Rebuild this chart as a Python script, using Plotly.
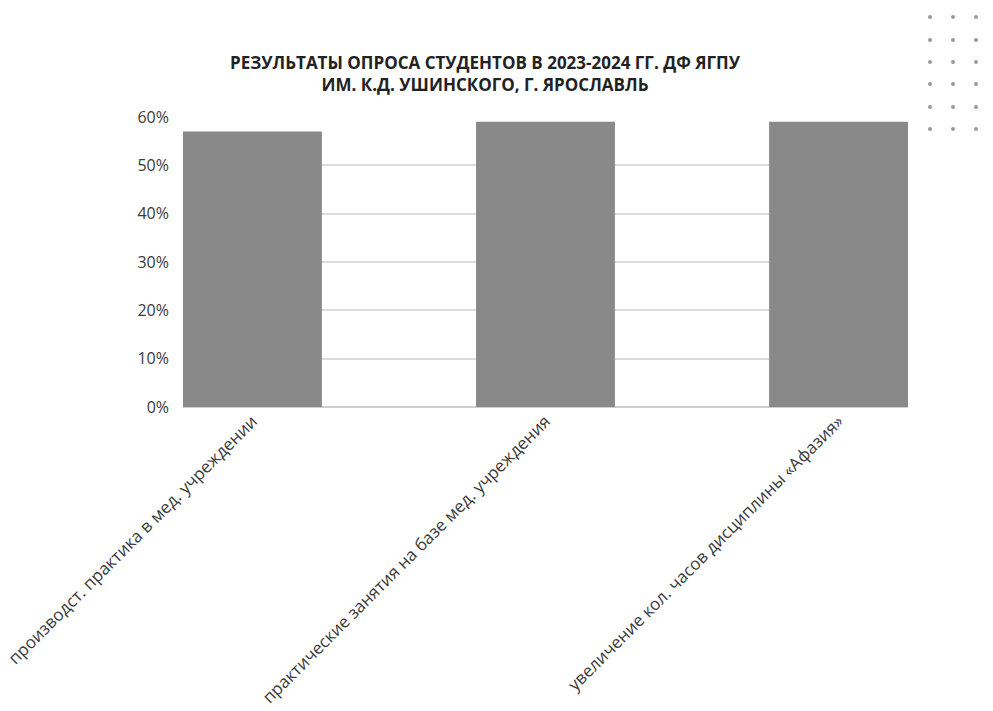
import plotly.graph_objects as go

categories = [
    "производст. практика в мед. учреждении",
    "практические занятия на базе мед. учреждения",
    "увеличение кол. часов дисциплины «Афазия»",
]
values = [57, 59, 59]
y_ticks = [0, 10, 20, 30, 40, 50, 60]
y_tick_labels = ["0%", "10%", "20%", "30%", "40%", "50%", "60%"]

title_text = ("<b>РЕЗУЛЬТАТЫ ОПРОСА СТУДЕНТОВ В 2023-2024 ГГ. ДФ ЯГПУ<br>"
              "ИМ. К.Д. УШИНСКОГО, Г. ЯРОСЛАВЛЬ</b>")

fig = go.Figure(go.Bar(
    x=categories, y=values,
    marker=dict(color="#898989", line=dict(width=0)),
    hoverinfo="x+y",
))

W, H = 993, 711
ml, mr, mt, mb = 183, 85, 116, 304
half = 0.237

fig.update_layout(
    width=W, height=H,
    margin=dict(l=ml, r=mr, t=mt, b=mb, autoexpand=False),
    paper_bgcolor="white", plot_bgcolor="white",
    bargap=1 - 2 * half,
    showlegend=False,
    font=dict(family="Open Sans", color="#3a3a3a", size=15),
    title=dict(text=title_text, x=485 / W, xanchor="center",
               y=1 - 69 / H, yanchor="middle",
               font=dict(family="Open Sans", size=17, color="#222222")),
    xaxis=dict(
        range=[-half, 2 + half], tickangle=-45, showgrid=False,
        showline=False, ticks="", automargin=False,
        tickfont=dict(family="Open Sans", size=17, color="#3a3a3a"),
    ),
    yaxis=dict(
        range=[0, 60.2], tickvals=y_ticks, ticktext=y_tick_labels,
        showgrid=True, gridcolor="#dcdcdc", gridwidth=1.5,
        zeroline=True, zerolinecolor="#cfcfcf", zerolinewidth=1.5,
        showline=False, ticks="", ticklabelstandoff=13, automargin=False,
        tickfont=dict(family="Open Sans", size=16, color="#3a3a3a"),
    ),
)

# decorative dot grid in the top-right corner
dot_cols = [930, 953, 976]
dot_rows = [17, 40, 62, 84, 107, 129]
for cx in dot_cols:
    for cy in dot_rows:
        fig.add_shape(type="circle", xref="paper", yref="paper",
                      x0=(cx - ml - 2) / (W - ml - mr), x1=(cx - ml + 2) / (W - ml - mr),
                      y0=(H - mb - cy - 2) / (H - mt - mb), y1=(H - mb - cy + 2) / (H - mt - mb),
                      fillcolor="#9a9a9a", line=dict(width=0), layer="above")

fig.write_html("out.html")
